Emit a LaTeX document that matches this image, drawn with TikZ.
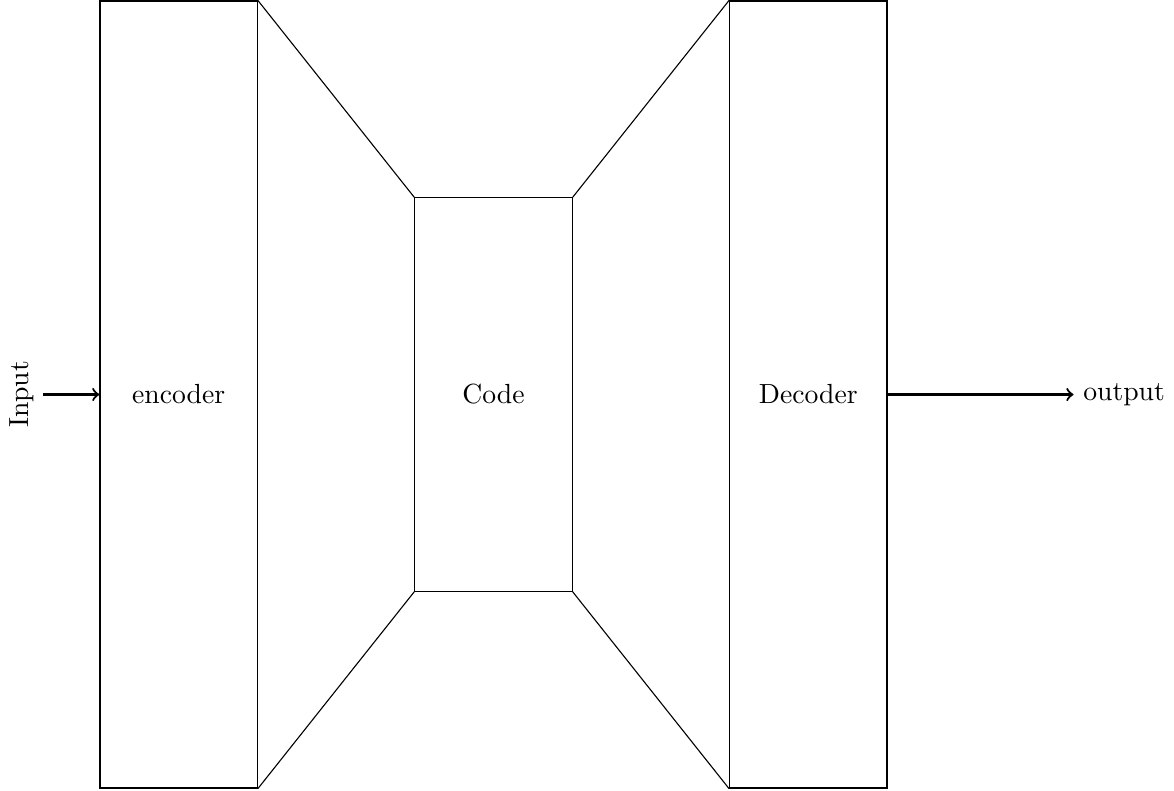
\documentclass[tikz,border=0pt]{standalone}
\usetikzlibrary{positioning}
\tikzset{
  block/.style={draw, minimum width=2cm, inner sep=0pt},
  flow/.style={->, thick}
}
\begin{document}
\begin{tikzpicture}
\useasboundingbox (-1.27,-0.025) rectangle (13.647,10.013);
% the three stages
\node[block, minimum height=10cm] (encoder) at (1,5) {encoder};
\node[block, minimum height=5cm] (code) at (5,5) {Code};
\node[block, minimum height=10cm] (decoder) at (9,5) {Decoder};
% funnel sides
\draw (encoder.north east) -- (code.north west);
\draw (encoder.south east) -- (code.south west);
\draw (code.north east) -- (decoder.north west);
\draw (code.south east) -- (decoder.south west);
% in and out
\node[rotate=90] (input) at (-1.0,5) {Input};
\node[anchor=west] (output) at (12.37,5) {output};
\draw[flow] (input.south) -- (encoder.west);
\draw[flow] (decoder.east) -- (output.west);
\end{tikzpicture}
\end{document}
